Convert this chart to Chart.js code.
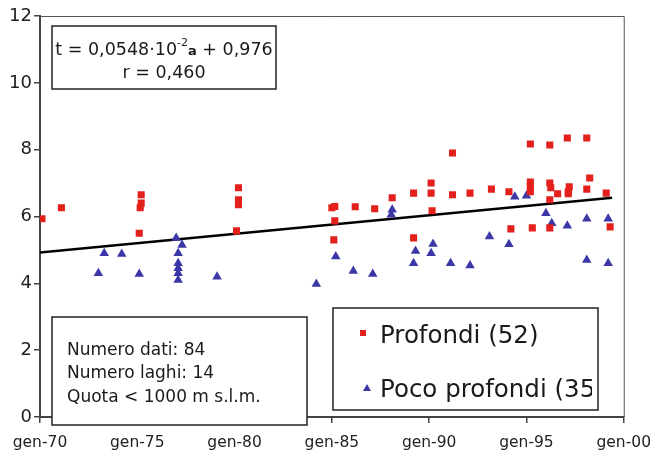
<!DOCTYPE html>
<html>
<head>
<meta charset="utf-8">
<script src="https://cdn.jsdelivr.net/npm/chart.js@4.4.1/dist/chart.umd.min.js"></script>
<style>
  html, body { margin: 0; padding: 0; background: #fff; }
  #wrap { width: 662px; height: 452px; }
</style>
</head>
<body>
<div id="wrap"><canvas id="chart" width="662" height="452"></canvas></div>
<script>
// Profondi (red squares): year, value
const profondiX = [1970.1, 1971.1,
  1975.2, 1975.2, 1975.15, 1975.1,
  1980.2, 1980.2, 1980.2, 1980.1,
  1985.0, 1985.15, 1985.15, 1985.1,
  1986.2, 1987.2, 1988.1, 1989.2, 1989.2,
  1990.1, 1990.1, 1990.15, 1991.2, 1991.2,
  1992.1, 1993.2, 1994.1, 1994.2,
  1995.2, 1995.2, 1995.2, 1995.2, 1995.3,
  1996.2, 1996.2, 1996.25, 1996.2, 1996.2, 1996.6,
  1997.1, 1997.2, 1997.15, 1997.15,
  1998.1, 1998.25, 1998.1, 1999.1, 1999.3];
const profondiY = [5.93, 6.26,
  6.65, 6.4, 6.26, 5.5,
  6.86, 6.5, 6.35, 5.57,
  6.26, 6.3, 5.87, 5.3,
  6.29, 6.23, 6.56, 6.7, 5.36,
  7.0, 6.7, 6.17, 7.9, 6.65,
  6.7, 6.82, 6.74, 5.63,
  8.17, 7.03, 6.89, 6.74, 5.66,
  8.14, 7.0, 6.86, 6.5, 5.66, 6.68,
  8.35, 6.89, 6.74, 6.68,
  8.35, 7.15, 6.82, 6.7, 5.69];

// Poco profondi (blue triangles)
const pocoX = [1973.0, 1973.3, 1974.2, 1975.1,
  1977.0, 1977.3, 1977.1, 1977.1, 1977.1, 1977.1, 1977.1,
  1979.1, 1984.2, 1985.2, 1986.1, 1987.1, 1988.1, 1988.05,
  1989.2, 1989.3, 1990.2, 1990.1, 1991.1, 1992.1, 1993.1, 1994.1,
  1994.4, 1995.0, 1996.0, 1996.3, 1997.1, 1998.1, 1998.1, 1999.2, 1999.2];
const pocoY = [4.3, 4.9, 4.88, 4.28,
  5.36, 5.15, 4.9, 4.6, 4.45, 4.3, 4.1,
  4.2, 3.98, 4.8, 4.37, 4.28, 6.2, 6.05,
  4.6, 4.97, 5.18, 4.9, 4.6, 4.53, 5.4, 5.17,
  6.59, 6.62, 6.1, 5.8, 5.72, 5.93, 4.7, 5.93, 4.6];

// regression line end points
const trendX = [1970, 1999.4];
const trendY = [4.92, 6.56];

const xTickYears = [1970, 1975, 1980, 1985, 1990, 1995, 2000];
const xTickLabels = ["gen-70", "gen-75", "gen-80", "gen-85", "gen-90", "gen-95", "gen-00"];
const yTicks = [0, 2, 4, 6, 8, 10, 12];

const RED = "#e3201b";
const BLUE = "#3b37a6";
const FONT = "'DejaVu Sans', sans-serif";

function toPoints(xs, ys) {
  return xs.map((x, i) => ({ x: x, y: ys[i] }));
}

const boxes = {
  id: "boxes",
  beforeDatasetsDraw(chart) {
    const ctx = chart.ctx;
    const a = chart.chartArea;
    ctx.save();
    ctx.strokeStyle = "#555";
    ctx.lineWidth = 1;
    ctx.beginPath();
    ctx.moveTo(a.left, a.top + 0.5);
    ctx.lineTo(a.right + 0.5, a.top + 0.5);
    ctx.lineTo(a.right + 0.5, a.bottom);
    ctx.stroke();
    ctx.restore();
  },
  afterDraw(chart) {
    const ctx = chart.ctx;
    ctx.save();
    ctx.fillStyle = "#fff";
    ctx.strokeStyle = "#222";
    ctx.lineWidth = 1.5;

    // equation box
    ctx.fillRect(52, 26, 224, 63);
    ctx.strokeRect(52, 26, 224, 63);
    ctx.fillStyle = "#1a1a1a";
    ctx.textBaseline = "alphabetic";
    const big = "17.5px " + FONT;
    const sup = "11px " + FONT;
    const bold = "bold 13px " + FONT;
    const p1 = "t = 0,0548\u00b710", p2 = "-2", p3 = "a", p4 = " + 0,976";
    ctx.font = big; const w1 = ctx.measureText(p1).width, w4 = ctx.measureText(p4).width;
    ctx.font = sup; const w2 = ctx.measureText(p2).width;
    ctx.font = bold; const w3 = ctx.measureText(p3).width;
    let x = 164 - (w1 + w2 + w3 + w4) / 2;
    ctx.textAlign = "left";
    ctx.font = big; ctx.fillText(p1, x, 55); x += w1;
    ctx.font = sup; ctx.fillText(p2, x, 46); x += w2;
    ctx.font = bold; ctx.fillText(p3, x, 55); x += w3;
    ctx.font = big; ctx.fillText(p4, x, 55);
    ctx.textAlign = "center";
    ctx.fillText("r = 0,460", 164, 78);

    // info box
    ctx.fillStyle = "#fff";
    ctx.fillRect(52, 317, 255, 108);
    ctx.strokeRect(52, 317, 255, 108);
    ctx.fillStyle = "#1a1a1a";
    ctx.textAlign = "left";
    ctx.font = "17px " + FONT;
    ctx.fillText("Numero dati: 84", 67, 355);
    ctx.fillText("Numero laghi: 14", 67, 378);
    ctx.fillText("Quota < 1000 m s.l.m.", 67, 402);

    // legend box (text runs past its right edge, as in the original)
    ctx.fillStyle = "#fff";
    ctx.fillRect(333, 308, 265, 102);
    ctx.save();
    ctx.beginPath();
    ctx.rect(334, 309, 258, 100);
    ctx.clip();
    ctx.fillStyle = RED;
    ctx.fillRect(360, 330, 6, 6);
    ctx.fillStyle = BLUE;
    ctx.beginPath();
    ctx.moveTo(367, 384);
    ctx.lineTo(371, 391);
    ctx.lineTo(363, 391);
    ctx.closePath();
    ctx.fill();
    ctx.fillStyle = "#1a1a1a";
    ctx.font = "24.5px " + FONT;
    ctx.fillText("Profondi (52)", 380, 343);
    ctx.fillText("Poco profondi (35)", 380, 397);
    ctx.restore();
    ctx.strokeRect(333, 308, 265, 102);
    ctx.restore();
  }
};

new Chart(document.getElementById("chart").getContext("2d"), {
  type: "scatter",
  data: {
    datasets: [
      {
        label: "Profondi (52)",
        data: toPoints(profondiX, profondiY),
        pointStyle: "rect",
        pointRadius: 5,
        backgroundColor: RED,
        borderColor: RED,
        borderWidth: 0,
      },
      {
        label: "Poco profondi (35)",
        data: toPoints(pocoX, pocoY),
        pointStyle: "triangle",
        pointRadius: 5.5,
        backgroundColor: BLUE,
        borderColor: BLUE,
        borderWidth: 0,
      },
      {
        type: "line",
        label: "trend",
        data: toPoints(trendX, trendY),
        borderColor: "#000",
        borderWidth: 2.5,
        pointRadius: 0,
        fill: false,
      },
    ],
  },
  options: {
    animation: false,
    responsive: false,
    layout: { padding: { left: 0, right: 38, top: 16, bottom: 0 } },
    plugins: { legend: { display: false }, tooltip: { enabled: false } },
    scales: {
      x: {
        type: "linear",
        min: 1970,
        max: 2000,
        afterBuildTicks: (s) => { s.ticks = xTickYears.map((v) => ({ value: v })); },
        afterFit: (s) => { s.height = 35; },
        ticks: {
          callback: (v) => xTickLabels[xTickYears.indexOf(v)],
          color: "#222",
          font: { family: FONT, size: 15.5 },
          padding: 11,
          maxRotation: 0,
        },
        grid: { drawOnChartArea: false, tickLength: 6, color: "#444", lineWidth: 1.5 },
        border: { color: "#444", width: 2 },
      },
      y: {
        min: 0,
        max: 12,
        afterBuildTicks: (s) => { s.ticks = yTicks.map((v) => ({ value: v })); },
        afterFit: (s) => { s.width = 40; },
        ticks: {
          color: "#222",
          font: { family: FONT, size: 18 },
          padding: 2,
        },
        grid: { drawOnChartArea: false, tickLength: 6, color: "#444", lineWidth: 1.5 },
        border: { color: "#444", width: 2 },
      },
    },
  },
  plugins: [boxes],
});
</script>
</body>
</html>
